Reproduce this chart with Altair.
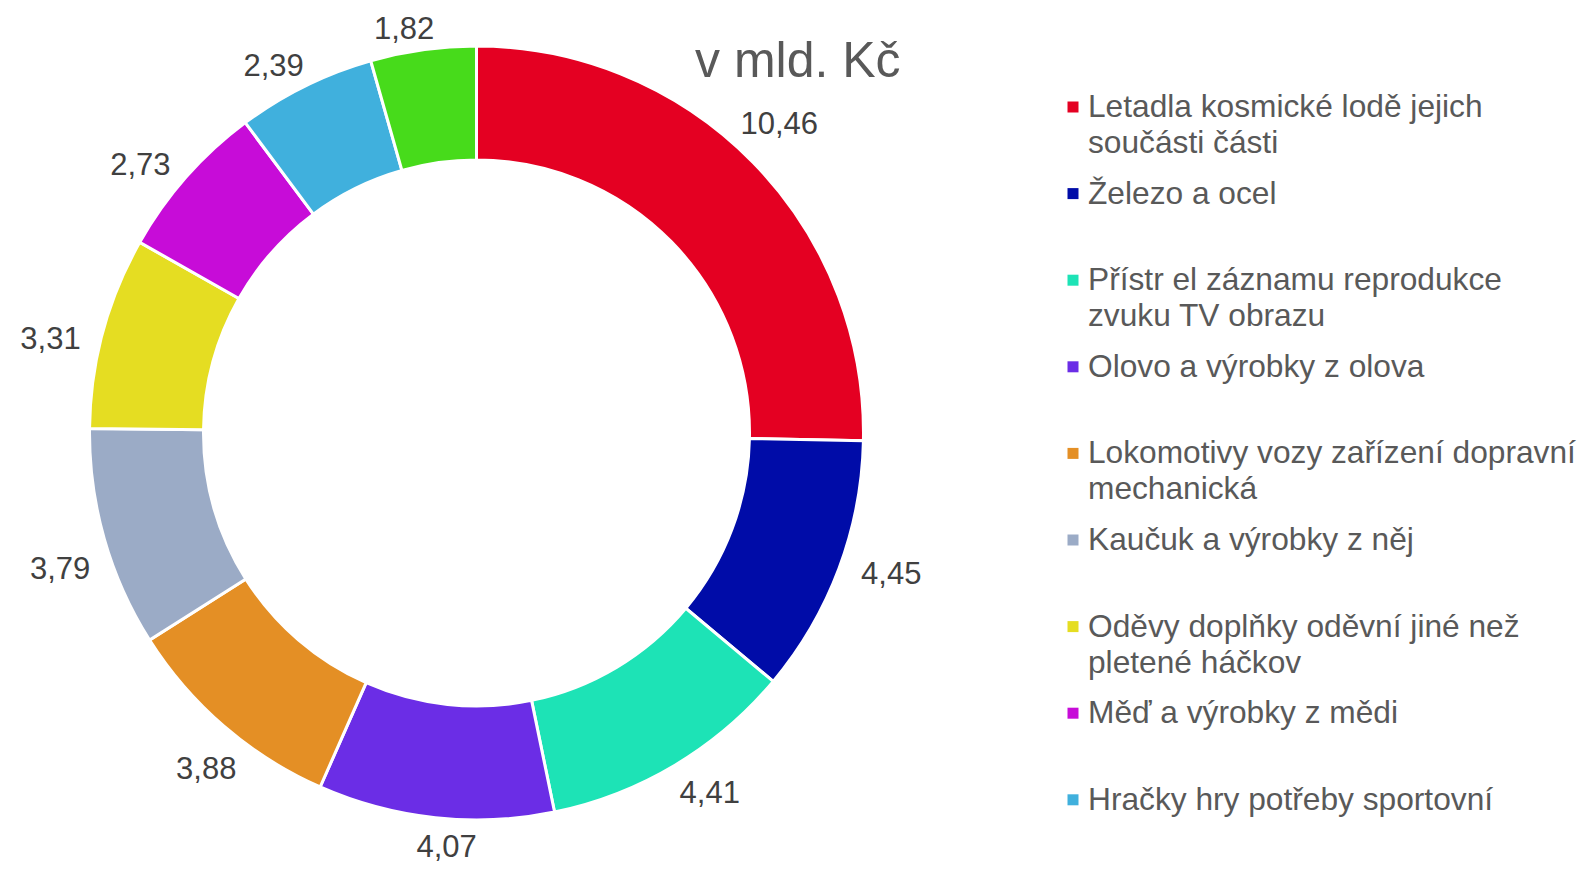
import math
import altair as alt
import pandas as pd

# ---- data ----
categories = [
    "Letadla kosmické lodě jejich součásti části",
    "Železo a ocel",
    "Přístr el záznamu reprodukce zvuku TV obrazu",
    "Olovo a výrobky z olova",
    "Lokomotivy vozy zařízení dopravní mechanická",
    "Kaučuk a výrobky z něj",
    "Oděvy doplňky oděvní jiné než pletené háčkov",
    "Měď a výrobky z mědi",
    "Hračky hry potřeby sportovní",
    "Ostatní",
]
values = [10.46, 4.45, 4.41, 4.07, 3.88, 3.79, 3.31, 2.73, 2.39, 1.82]
colors = ["#E40022", "#000CA8", "#1DE3B6", "#6B2DE6", "#E48F25",
          "#9BABC6", "#E5DD22", "#C70CD8", "#40B0DD", "#47DB1B"]
legend_labels = [
    "Letadla kosmické lodě jejich\nsoučásti části",
    "Železo a ocel",
    "Přístr el záznamu reprodukce\nzvuku TV obrazu",
    "Olovo a výrobky z olova",
    "Lokomotivy vozy zařízení dopravní\nmechanická",
    "Kaučuk a výrobky z něj",
    "Oděvy doplňky oděvní jiné než\npletené háčkov",
    "Měď a výrobky z mědi",
    "Hračky hry potřeby sportovní",
]
title_text = "v mld. Kč"

# ---- layout constants ----
W, H = 1569, 857
CX, CY = 468.5, 425.0
R_OUT, R_IN = 387, 273
LABEL_FS = 31
LEG_FS = 31.7
LEG_X = 1080
LEG_Y0 = 109
LEG_STEP = 86.6
LABEL_SHIFT = -2 * math.pi / 180  # label angular offset
LABEL_DY = 5
LABEL_VSCALE = 0.985

df = pd.DataFrame({"cat": categories, "value": values, "idx": list(range(len(values)))})
leg_df = pd.DataFrame({"cat": categories[:len(legend_labels)],
                       "text": legend_labels,
                       "li": list(range(len(legend_labels)))})

color_scale = alt.Scale(domain=categories, range=colors)
FONT = "Liberation Sans"

base = alt.Chart(df)

arcs = base.mark_arc(radius=R_OUT, radius2=R_IN, stroke="white", strokeWidth=3).encode(
    theta=alt.Theta("value:Q", stack=True),
    order=alt.Order("idx:Q"),
    color=alt.Color("cat:N", scale=color_scale, legend=None),
    x=alt.value(CX),
    y=alt.value(CY),
)

labels = base.transform_window(
    cum="sum(value)", sort=[alt.SortField("idx")], frame=[None, 0]
).transform_joinaggregate(
    total="sum(value)"
).transform_calculate(
    mid=f"(datum.cum - datum.value/2) / datum.total * 2 * PI + ({LABEL_SHIFT})",
    lab="replace(format(datum.value, '.2f'), '.', ',')",
).transform_calculate(
    hw=f"{LABEL_FS} * (0.556 * (length(datum.lab) - 1) + 0.278) / 2",
).transform_calculate(
    r=f"{R_OUT - 2} + 21 + datum.hw * abs(sin(datum.mid)) + 9 * abs(cos(datum.mid))",
).transform_calculate(
    lx=f"{CX} + datum.r * sin(datum.mid)",
    ly=f"{CY + LABEL_DY} - datum.r * {LABEL_VSCALE} * cos(datum.mid)",
).mark_text(
    font=FONT, fontSize=LABEL_FS, color="#404040", align="center", baseline="middle"
).encode(
    x=alt.X("lx:Q", scale=None, axis=None),
    y=alt.Y("ly:Q", scale=None, axis=None),
    text="lab:N",
)

leg_base = alt.Chart(leg_df).transform_calculate(
    ly=f"{LEG_Y0} + datum.li * {LEG_STEP}"
)

leg_sq = leg_base.mark_square(size=121, filled=True, opacity=1, yOffset=-10).encode(
    x=alt.value(LEG_X - 15),
    y=alt.Y("ly:Q", scale=None, axis=None),
    color=alt.Color("cat:N", scale=color_scale, legend=None),
)

leg_txt = leg_base.mark_text(
    font=FONT, fontSize=LEG_FS, color="#595959", align="left",
    baseline="alphabetic", lineBreak="\n", lineHeight=36,
).encode(
    x=alt.value(LEG_X),
    y=alt.Y("ly:Q", scale=None, axis=None),
    text="text:N",
)

title = alt.Chart(pd.DataFrame({"t": [title_text]})).mark_text(
    font=FONT, fontSize=50, color="#595959", align="left", baseline="alphabetic"
).encode(
    x=alt.value(687),
    y=alt.value(69),
    text="t:N",
)

chart = alt.layer(arcs, labels, leg_sq, leg_txt, title).properties(
    width=W, height=H, padding=0,
    autosize=alt.AutoSizeParams(type="none"),
).configure_view(stroke=None)

chart.save("out.html", embed_options={"renderer": "svg", "actions": False})
